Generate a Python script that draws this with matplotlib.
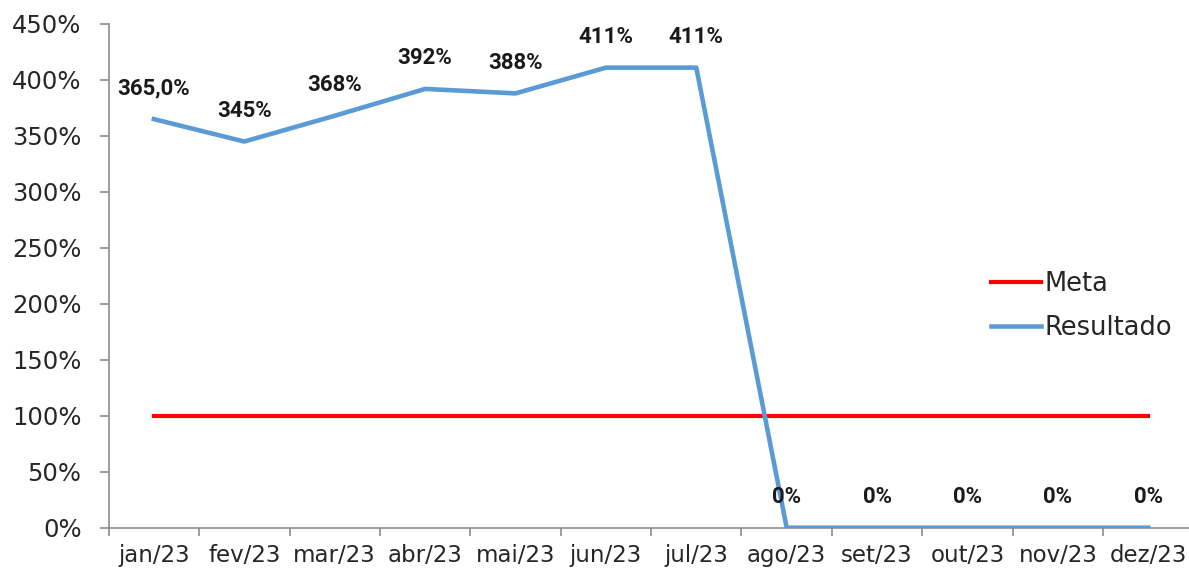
import matplotlib
matplotlib.use("Agg")
import matplotlib.pyplot as plt
from matplotlib.ticker import FuncFormatter, FixedLocator

months = ["jan/23", "fev/23", "mar/23", "abr/23", "mai/23", "jun/23",
          "jul/23", "ago/23", "set/23", "out/23", "nov/23", "dez/23"]
meta = [100] * 12
resultado = [365, 345, 368, 392, 388, 411, 411, 0, 0, 0, 0, 0]
labels = ["365,0%", "345%", "368%", "392%", "388%", "411%", "411%",
          "0%", "0%", "0%", "0%", "0%"]

W, H = 1189, 575
fig = plt.figure(figsize=(W / 100, H / 100), dpi=100)
ax = fig.add_axes([108.7 / W, 47.3 / H, (1193.5 - 108.7) / W, (527.7 - 24) / H])

x = list(range(len(months)))
ax.plot(x, meta, color="#FF0000", lw=3.0, label="Meta", solid_capstyle="projecting")
ax.plot(x, resultado, color="#5B9BD5", lw=3.3, label="Resultado", solid_capstyle="projecting",
        solid_joinstyle="round")

for xi, v, lab in zip(x, resultado, labels):
    ax.annotate(lab, (xi, v), xytext=(0, 22), textcoords="offset points",
                ha="center", va="center", fontsize=16, fontweight="bold",
                family="Roboto", color="#1a1a1a")

ax.set_xlim(-0.5, 11.5)
ax.set_ylim(0, 450)
ax.set_yticks(range(0, 451, 50))
ax.yaxis.set_major_formatter(FuncFormatter(lambda v, p: f"{v:.0f}%"))
ax.set_xticks(x)
ax.set_xticklabels(months)
ax.xaxis.set_minor_locator(FixedLocator([i - 0.5 for i in range(13)]))

gray = "#8c8c8c"
for s in ["top", "right"]:
    ax.spines[s].set_visible(False)
for s in ["left", "bottom"]:
    ax.spines[s].set_color(gray)
    ax.spines[s].set_linewidth(1.2)

ax.tick_params(axis="y", length=6.5, width=1.2, color=gray, pad=13,
               labelsize=17.5, labelcolor="#262626")
ax.tick_params(axis="x", which="major", length=0, pad=12,
               labelsize=16.5, labelcolor="#262626")
ax.tick_params(axis="x", which="minor", length=5.5, width=1.2, color=gray)

leg = ax.legend(loc="upper left", bbox_to_anchor=(991 / W, 1 - 271 / H),
                bbox_transform=fig.transFigure, frameon=False, fontsize=18.5,
                handlelength=1.95, handletextpad=0.15, labelspacing=0.7,
                borderpad=0, borderaxespad=0)
for t in leg.get_texts():
    t.set_color("#262626")

fig.savefig("out.png", dpi=100)
